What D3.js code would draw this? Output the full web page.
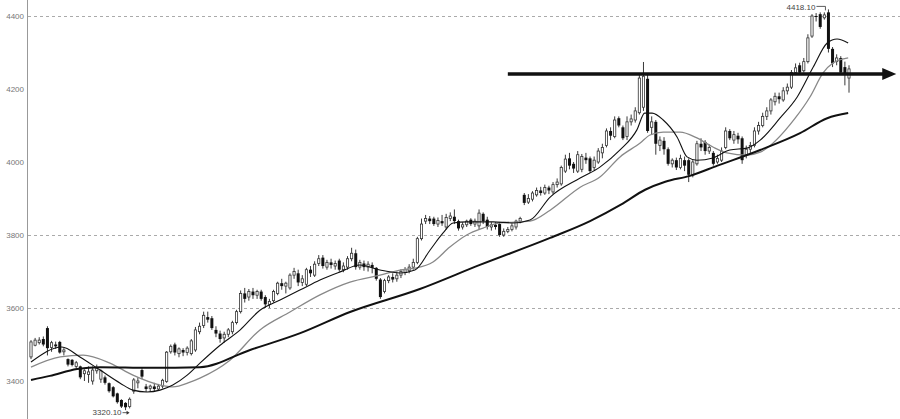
<!DOCTYPE html>
<html><head><meta charset="utf-8">
<script src="https://cdn.jsdelivr.net/npm/d3@7"></script>
<style>html,body{margin:0;padding:0;background:#fff;overflow:hidden}</style>
</head><body>
<svg id="c" width="900" height="419"></svg>
<script>
// ---- data ----
const yTicks = [4400, 4200, 4000, 3800, 3600, 3400];
const yTickLabels = ["4400", "4200", "4000", "3800", "3600", "3400"];
const gridValues = [4400, 3800, 3600];
// [open, high, low, close]
const candles = [
[3466,3512,3460,3507],[3498,3518,3495,3512],[3505,3520,3500,3512],[3515,3522,3495,3500],[3545,3550,3470,3490],
[3492,3510,3480,3505],[3500,3508,3488,3495],[3507,3510,3475,3478],[3480,3490,3470,3485],[3460,3462,3440,3445],
[3458,3460,3440,3444],[3440,3455,3435,3450],[3440,3442,3405,3410],[3420,3432,3400,3428],[3418,3440,3395,3425],
[3400,3440,3390,3430],[3428,3445,3420,3435],[3405,3432,3395,3428],[3410,3415,3390,3395],[3394,3396,3368,3372],
[3383,3386,3355,3358],[3366,3368,3338,3342],[3348,3350,3326,3330],[3340,3342,3320.1,3328],[3330,3355,3325,3350],
[3372,3408,3365,3403],[3395,3410,3380,3400],[3430,3435,3405,3412],[3385,3392,3370,3378],[3380,3390,3370,3386],
[3385,3395,3372,3378],[3378,3392,3374,3386],[3386,3406,3380,3402],[3399,3482,3395,3479],[3480,3500,3475,3495],
[3500,3505,3470,3478],[3475,3492,3465,3488],[3485,3490,3468,3478],[3478,3495,3470,3490],[3475,3515,3470,3510],
[3485,3548,3480,3540],[3535,3560,3528,3550],[3552,3590,3545,3580],[3575,3590,3560,3568],[3572,3578,3540,3545],
[3540,3550,3520,3530],[3530,3538,3505,3515],[3518,3535,3505,3528],[3528,3545,3520,3540],[3535,3565,3528,3560],
[3560,3595,3555,3590],[3590,3648,3585,3640],[3640,3655,3615,3625],[3630,3652,3620,3645],[3645,3655,3625,3635],
[3635,3650,3625,3645],[3645,3650,3620,3625],[3630,3635,3600,3610],[3610,3625,3600,3618],[3620,3650,3615,3645],
[3640,3672,3635,3668],[3668,3680,3650,3660],[3660,3672,3640,3668],[3655,3695,3650,3690],[3690,3710,3680,3700],
[3695,3705,3660,3670],[3670,3690,3660,3680],[3665,3710,3660,3705],[3705,3715,3685,3695],[3690,3728,3685,3720],
[3722,3745,3715,3735],[3738,3745,3708,3715],[3712,3732,3705,3725],[3725,3735,3708,3718],[3715,3730,3705,3722],
[3730,3735,3700,3705],[3705,3725,3698,3715],[3712,3742,3705,3735],[3735,3765,3728,3750],[3750,3760,3705,3712],
[3712,3732,3705,3725],[3722,3730,3702,3712],[3712,3728,3700,3720],[3718,3725,3695,3710],[3710,3712,3675,3680],
[3678,3682,3625,3630],[3645,3680,3640,3675],[3675,3690,3668,3685],[3685,3695,3670,3678],[3680,3700,3672,3690],
[3690,3706,3682,3700],[3698,3712,3690,3705],[3702,3720,3695,3712],[3712,3735,3705,3725],[3725,3795,3720,3790],
[3790,3845,3785,3830],[3838,3855,3830,3845],[3845,3852,3830,3838],[3845,3850,3825,3830],[3830,3848,3822,3840],
[3838,3855,3825,3832],[3822,3858,3815,3848],[3845,3862,3838,3852],[3850,3870,3830,3838],[3838,3842,3812,3818],
[3822,3835,3815,3828],[3828,3842,3822,3838],[3842,3846,3825,3830],[3830,3845,3822,3838],[3825,3870,3815,3860],
[3858,3862,3830,3838],[3842,3850,3815,3822],[3822,3835,3812,3828],[3828,3835,3815,3822],[3830,3835,3795,3800],
[3800,3818,3795,3810],[3810,3822,3805,3815],[3815,3832,3810,3825],[3822,3842,3815,3838],[3838,3850,3832,3845],
[3910,3915,3882,3888],[3890,3912,3885,3900],[3898,3920,3892,3915],[3910,3930,3905,3922],[3922,3932,3908,3915],
[3915,3938,3910,3930],[3930,3935,3912,3922],[3918,3945,3912,3938],[3938,3955,3930,3945],[3940,3990,3935,3985],
[3975,4020,3970,4008],[4010,4025,3980,3990],[3995,4000,3970,3982],[3975,4030,3970,4020],[3980,4022,3972,4015],
[4012,4025,3995,4005],[4010,4015,3970,3975],[3985,4015,3978,4005],[4000,4038,3995,4030],[4025,4050,4010,4040],
[4045,4092,4040,4085],[4085,4095,4060,4072],[4070,4125,4065,4115],[4120,4125,4095,4100],[4095,4100,4060,4065],
[4070,4125,4060,4110],[4110,4130,4100,4118],[4115,4150,4108,4140],[4135,4240,4130,4230],[4150,4274,4140,4235],
[4228,4240,4080,4085],[4095,4125,4075,4110],[4110,4115,4020,4050],[4045,4070,4030,4060],[4058,4068,4020,4035],
[4035,4040,3990,3995],[3995,4010,3985,4005],[4005,4012,3978,3985],[3985,4020,3980,4010],[4005,4015,3975,3990],
[4005,4010,3945,3965],[3965,4005,3958,4000],[3995,4058,3990,4050],[4050,4065,4030,4040],[4055,4060,4020,4030],
[4030,4048,4022,4040],[4025,4030,3990,3995],[4000,4020,3995,4010],[4005,4040,4000,4030],[4040,4095,4035,4085],
[4085,4090,4060,4065],[4060,4085,4050,4075],[4072,4080,4050,4062],[4065,4070,3995,4005],[4020,4045,4010,4035],
[4035,4055,4025,4045],[4045,4095,4040,4085],[4085,4110,4075,4100],[4100,4135,4095,4125],[4125,4150,4115,4140],
[4140,4175,4130,4170],[4165,4190,4155,4180],[4180,4190,4160,4172],[4170,4205,4165,4195],[4195,4215,4185,4205],
[4205,4252,4200,4245],[4245,4270,4238,4258],[4265,4272,4240,4245],[4250,4285,4245,4275],[4275,4350,4270,4340],
[4345,4405,4340,4400],[4400,4408,4385,4398],[4405,4410,4365,4370],[4395,4410,4390,4403],[4410,4418.1,4300,4310],
[4310,4315,4260,4270],[4275,4295,4265,4285],[4285,4290,4240,4245],[4260,4275,4210,4240],[4230,4265,4190,4255]
];
// moving averages: [candle index, value]
const maShort = [[0,3452],[7.5,3493],[11.9,3466],[16.8,3430],[21.7,3394],[24.8,3375],[28.2,3370],[31.4,3375],
[34.5,3389],[38,3416],[41.1,3449],[46,3498],[50.9,3540],[55.7,3594],[60.6,3622],[65.4,3649],[70.3,3677],
[75.2,3699],[80,3718],[84.9,3704],[89.8,3696],[93.4,3704],[97.1,3759],[100.2,3805],[102.7,3833],[106,3836],
[112.4,3836],[117.3,3833],[121.4,3841],[126.3,3904],[133.6,3956],[138.4,3986],[143.3,4033],[147.4,4088],
[149.3,4134],[151.1,4134],[153.8,4115],[157.2,4068],[159.6,4014],[162,4005],[165.9,4011],[170,4033],
[174.2,4038],[177.4,4060],[182.2,4120],[186.4,4178],[190.3,4260],[193.7,4326],[196.1,4337],[198.8,4326]];
const maMid = [[0,3438],[7.1,3466],[12.7,3471],[19.2,3449],[24.8,3416],[31.4,3389],[34.5,3384],[38.7,3397],
[41.1,3408],[48.4,3457],[55.7,3540],[63,3589],[70.3,3636],[77.6,3671],[84.9,3690],[89.8,3704],[93.4,3709],
[97.8,3726],[101.9,3767],[106,3800],[110,3819],[114.1,3833],[121.4,3838],[126.3,3868],[133.6,3931],
[138.4,3959],[143.3,4014],[148.2,4052],[150.6,4074],[153.8,4082],[157.9,4082],[162,4066],[165.9,4041],
[169.3,4025],[174.2,4019],[177.4,4027],[185.9,4120],[189.5,4178],[192.7,4244],[195.1,4271],[198.8,4285]];
const maLong = [[0,3403],[4.6,3414],[11.2,3433],[16.8,3438],[29,3436],[41.1,3438],[53.3,3485],[65.5,3531],
[77.6,3589],[94.6,3652],[109.2,3718],[126.3,3792],[136,3838],[143.5,3883],[149.4,3924],[154.3,3946],
[160.3,3962],[167,3990],[177.4,4033],[187.1,4079],[193.7,4120],[198.8,4134]];
const resistance = {start: 116, end: 210.5, value: 4241};
const highMark = {index: 194, value: 4418.1, label: "4418.10"};
const lowMark = {index: 23, value: 3320.1, label: "3320.10"};

// ---- drawing ----
const W = 900, H = 419;
const svg = d3.select("#c");
const x = d3.scaleLinear().domain([0, candles.length - 1]).range([31, 849]);
const y = d3.scaleLinear().domain([3400, 4400]).range([381, 16]);
const font = "'Liberation Sans', Arial, sans-serif";

// grid
svg.append("g").selectAll("line").data(gridValues).join("line")
  .attr("x1", 28).attr("x2", W).attr("y1", d => Math.round(y(d)) + 0.5).attr("y2", d => Math.round(y(d)) + 0.5)
  .attr("stroke", "#aaa").attr("stroke-width", 1).attr("stroke-dasharray", "3,3");

// axis
const axis = d3.axisLeft(y).tickValues(yTicks).tickSize(0).tickPadding(3)
  .tickFormat((d, i) => yTickLabels[i]);
const ag = svg.append("g").attr("transform", "translate(27,0)").call(axis);
ag.select(".domain").remove();
ag.selectAll("text").attr("font-family", font).attr("font-size", 8).attr("fill", "#777");
svg.append("line").attr("x1", 27.5).attr("x2", 27.5).attr("y1", 0).attr("y2", H)
  .attr("stroke", "#999").attr("stroke-width", 1);

// candles
const cg = svg.append("g");
candles.forEach((d, i) => {
  const [o, h, l, c] = d;
  const cx = x(i);
  cg.append("line").attr("x1", cx).attr("x2", cx).attr("y1", y(h)).attr("y2", y(l))
    .attr("stroke", "#222").attr("stroke-width", 0.9);
  const top = y(Math.max(o, c)), bot = y(Math.min(o, c));
  const hgt = Math.max(1, bot - top);
  if (c >= o) {
    cg.append("rect").attr("x", cx - 1.1).attr("width", 2.2).attr("y", top).attr("height", hgt)
      .attr("fill", "#fff").attr("stroke", "#333").attr("stroke-width", 0.8);
  } else {
    cg.append("rect").attr("x", cx - 1.5).attr("width", 3).attr("y", top).attr("height", hgt)
      .attr("fill", "#111");
  }
});

// moving averages
const line = d3.line().x(d => x(d[0])).y(d => y(d[1])).curve(d3.curveMonotoneX);
svg.append("path").attr("d", line(maMid)).attr("fill", "none").attr("stroke", "#888").attr("stroke-width", 1.3);
svg.append("path").attr("d", line(maShort)).attr("fill", "none").attr("stroke", "#111").attr("stroke-width", 1.1);
svg.append("path").attr("d", line(maLong)).attr("fill", "none").attr("stroke", "#111").attr("stroke-width", 2);

// resistance arrow
const ry = y(resistance.value), rx1 = x(resistance.start), rx2 = x(resistance.end);
svg.append("line").attr("x1", rx1).attr("x2", rx2 - 10).attr("y1", ry).attr("y2", ry)
  .attr("stroke", "#111").attr("stroke-width", 3.5);
svg.append("path").attr("d", `M${rx2},${ry} L${rx2 - 14},${ry - 6} L${rx2 - 14},${ry + 6} Z`).attr("fill", "#111");

// high annotation
const hx = x(highMark.index), hy = y(highMark.value);
svg.append("text").attr("x", hx - 13).attr("y", hy + 0.5).attr("text-anchor", "end")
  .attr("font-family", font).attr("font-size", 8).attr("fill", "#444").text(highMark.label);
svg.append("path").attr("d", `M${hx - 12},${hy - 3} H${hx - 3} V${hy + 1}`)
  .attr("fill", "none").attr("stroke", "#333").attr("stroke-width", 0.8);

// low annotation
const lx = x(lowMark.index), ly = y(lowMark.value);
svg.append("text").attr("x", lx - 4).attr("y", ly + 5).attr("text-anchor", "end")
  .attr("font-family", font).attr("font-size", 8).attr("fill", "#444").text(lowMark.label);
svg.append("line").attr("x1", lx - 3).attr("x2", lx + 2).attr("y1", ly + 2.5).attr("y2", ly + 2.5)
  .attr("stroke", "#333").attr("stroke-width", 0.8);
svg.append("path").attr("d", `M${lx + 4},${ly + 2.5} L${lx + 1},${ly + 0.5} L${lx + 1},${ly + 4.5} Z`).attr("fill", "#333");
</script>
</body></html>
